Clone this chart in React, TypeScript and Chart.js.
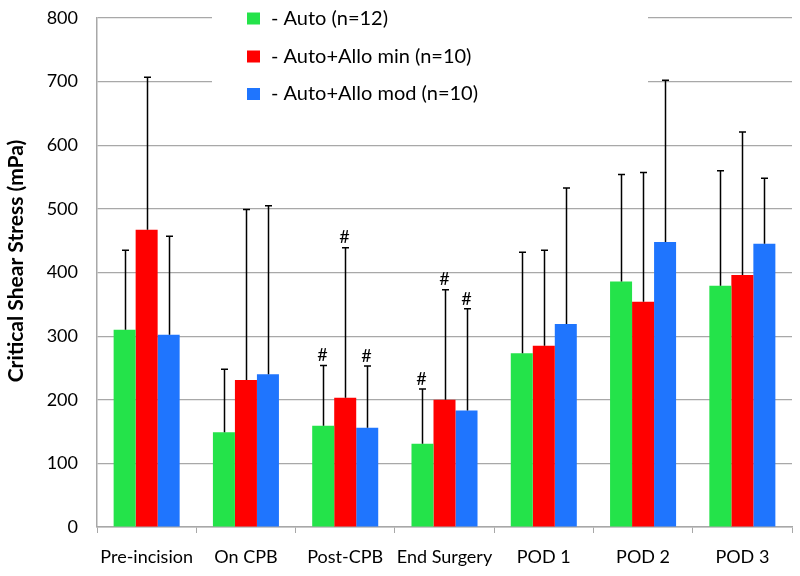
import React, { useEffect, useRef } from "react";
import { Chart, registerables } from "chart.js";

Chart.register(...registerables);

const categories = ["Pre-incision", "On CPB", "Post-CPB", "End Surgery", "POD 1", "POD 2", "POD 3"];

const seriesLabels = ["- Auto (n=12)", "- Auto+Allo min (n=10)", "- Auto+Allo mod (n=10)"];
const seriesColors = ["#24e34a", "#ff0000", "#1f75fe"];

const autoValues = [310, 149, 159, 131, 273, 386, 379];
const autoErr = [125, 99, 95, 86, 159, 168, 181];

const minValues = [467, 231, 203, 200, 285, 354, 396];
const minErr = [240, 268, 236, 173, 150, 203, 225];

const modValues = [302, 240, 156, 183, 319, 448, 445];
const modErr = [155, 265, 97, 160, 214, 254, 103];

const autoMark = [false, false, true, true, false, false, false];
const minMark = [false, false, true, true, false, false, false];
const modMark = [false, false, true, true, false, false, false];

const yTicks = [0, 100, 200, 300, 400, 500, 600, 700, 800];
const yTitle = "Critical Shear Stress (mPa)";

const errors = [autoErr, minErr, modErr];
const marks = [autoMark, minMark, modMark];

const FONT = "Lato";
const GRID = "#a8a8a8";

const errorBarPlugin = {
  id: "errorBars",
  afterDatasetsDraw(chart: any) {
    const ctx = chart.ctx;
    const y = chart.scales.y;
    ctx.save();
    chart.data.datasets.forEach((ds: any, di: number) => {
      const meta = chart.getDatasetMeta(di);
      meta.data.forEach((bar: any, i: number) => {
        const v = ds.data[i];
        const top = y.getPixelForValue(v + errors[di][i]);
        const x = Math.round(bar.x) + 0.5;
        ctx.strokeStyle = "#000";
        ctx.lineWidth = 1.5;
        ctx.beginPath();
        ctx.moveTo(x, bar.y);
        ctx.lineTo(x, top);
        ctx.moveTo(x - 3.5, top);
        ctx.lineTo(x + 3.5, top);
        ctx.stroke();
        if (marks[di][i]) {
          ctx.fillStyle = "#000";
          ctx.font = `18px ${FONT}`;
          ctx.textAlign = "center";
          ctx.textBaseline = "middle";
          ctx.fillText("#", x - 1, top - 10);
        }
      });
    });
    ctx.restore();
  },
};

const legendPlugin = {
  id: "customLegend",
  afterDraw(chart: any) {
    const ctx = chart.ctx;
    ctx.save();
    ctx.fillStyle = "#fff";
    ctx.fillRect(212, 0, 436, 112);
    const rows = [18.5, 56.5, 94];
    seriesLabels.forEach((label, i) => {
      ctx.fillStyle = seriesColors[i];
      ctx.fillRect(247, rows[i] - 6, 13, 12);
      ctx.fillStyle = "#000";
      ctx.font = `20px ${FONT}`;
      ctx.textAlign = "left";
      ctx.textBaseline = "middle";
      ctx.fillText(label, 271, rows[i]);
    });
    // y-axis title
    ctx.translate(16, 261);
    ctx.rotate(-Math.PI / 2);
    ctx.font = `bold 21px ${FONT}`;
    ctx.textAlign = "center";
    ctx.textBaseline = "middle";
    ctx.fillStyle = "#000";
    ctx.fillText(yTitle, 0, 0);
    ctx.restore();
  },
};

export default function App() {
  const ref = useRef<HTMLCanvasElement | null>(null);
  useEffect(() => {
    document.body.style.margin = "0";
    if (!ref.current) return;
    const data = {
      labels: categories,
      datasets: [autoValues, minValues, modValues].map((vals, i) => ({
        label: seriesLabels[i],
        data: vals,
        backgroundColor: seriesColors[i],
        borderWidth: 0,
        categoryPercentage: 0.665,
        barPercentage: 1.0,
      })),
    };
    const chart = new Chart(ref.current, {
      type: "bar",
      data,
      plugins: [errorBarPlugin, legendPlugin],
      options: {
        animation: false,
        responsive: false,
        layout: { padding: { top: 18, right: 8, left: 0, bottom: 0 } },
        plugins: {
          legend: { display: false },
          tooltip: { enabled: false },
        },
        scales: {
          x: {
            offset: true,
            grid: {
              display: true,
              drawOnChartArea: false,
              drawTicks: true,
              tickLength: 6,
              color: GRID,
              offset: true,
            },
            border: { color: GRID, width: 1.5 },
            ticks: {
              font: { family: FONT, size: 18 },
              color: "#000",
              padding: 13,
              maxRotation: 0,
              minRotation: 0,
              autoSkip: false,
            },
            afterFit: (s: any) => {
              s.height = 49;
              s.paddingLeft = 0;
              s.paddingRight = 0;
            },
          },
          y: {
            min: 0,
            max: 800,
            afterBuildTicks: (s: any) => {
              s.ticks = yTicks.map((v) => ({ value: v }));
            },
            grid: { color: GRID, drawTicks: false, lineWidth: 1.2 },
            border: { color: GRID, width: 1.5 },
            ticks: { font: { family: FONT, size: 18 }, color: "#000", padding: 19 },
            afterFit: (s: any) => {
              s.width = 97;
              s.paddingTop = 0;
              s.paddingBottom = 0;
            },
          },
        },
      },
    });
    return () => chart.destroy();
  }, []);
  return <canvas ref={ref} width={800} height={576} style={{ display: "block" }} />;
}
